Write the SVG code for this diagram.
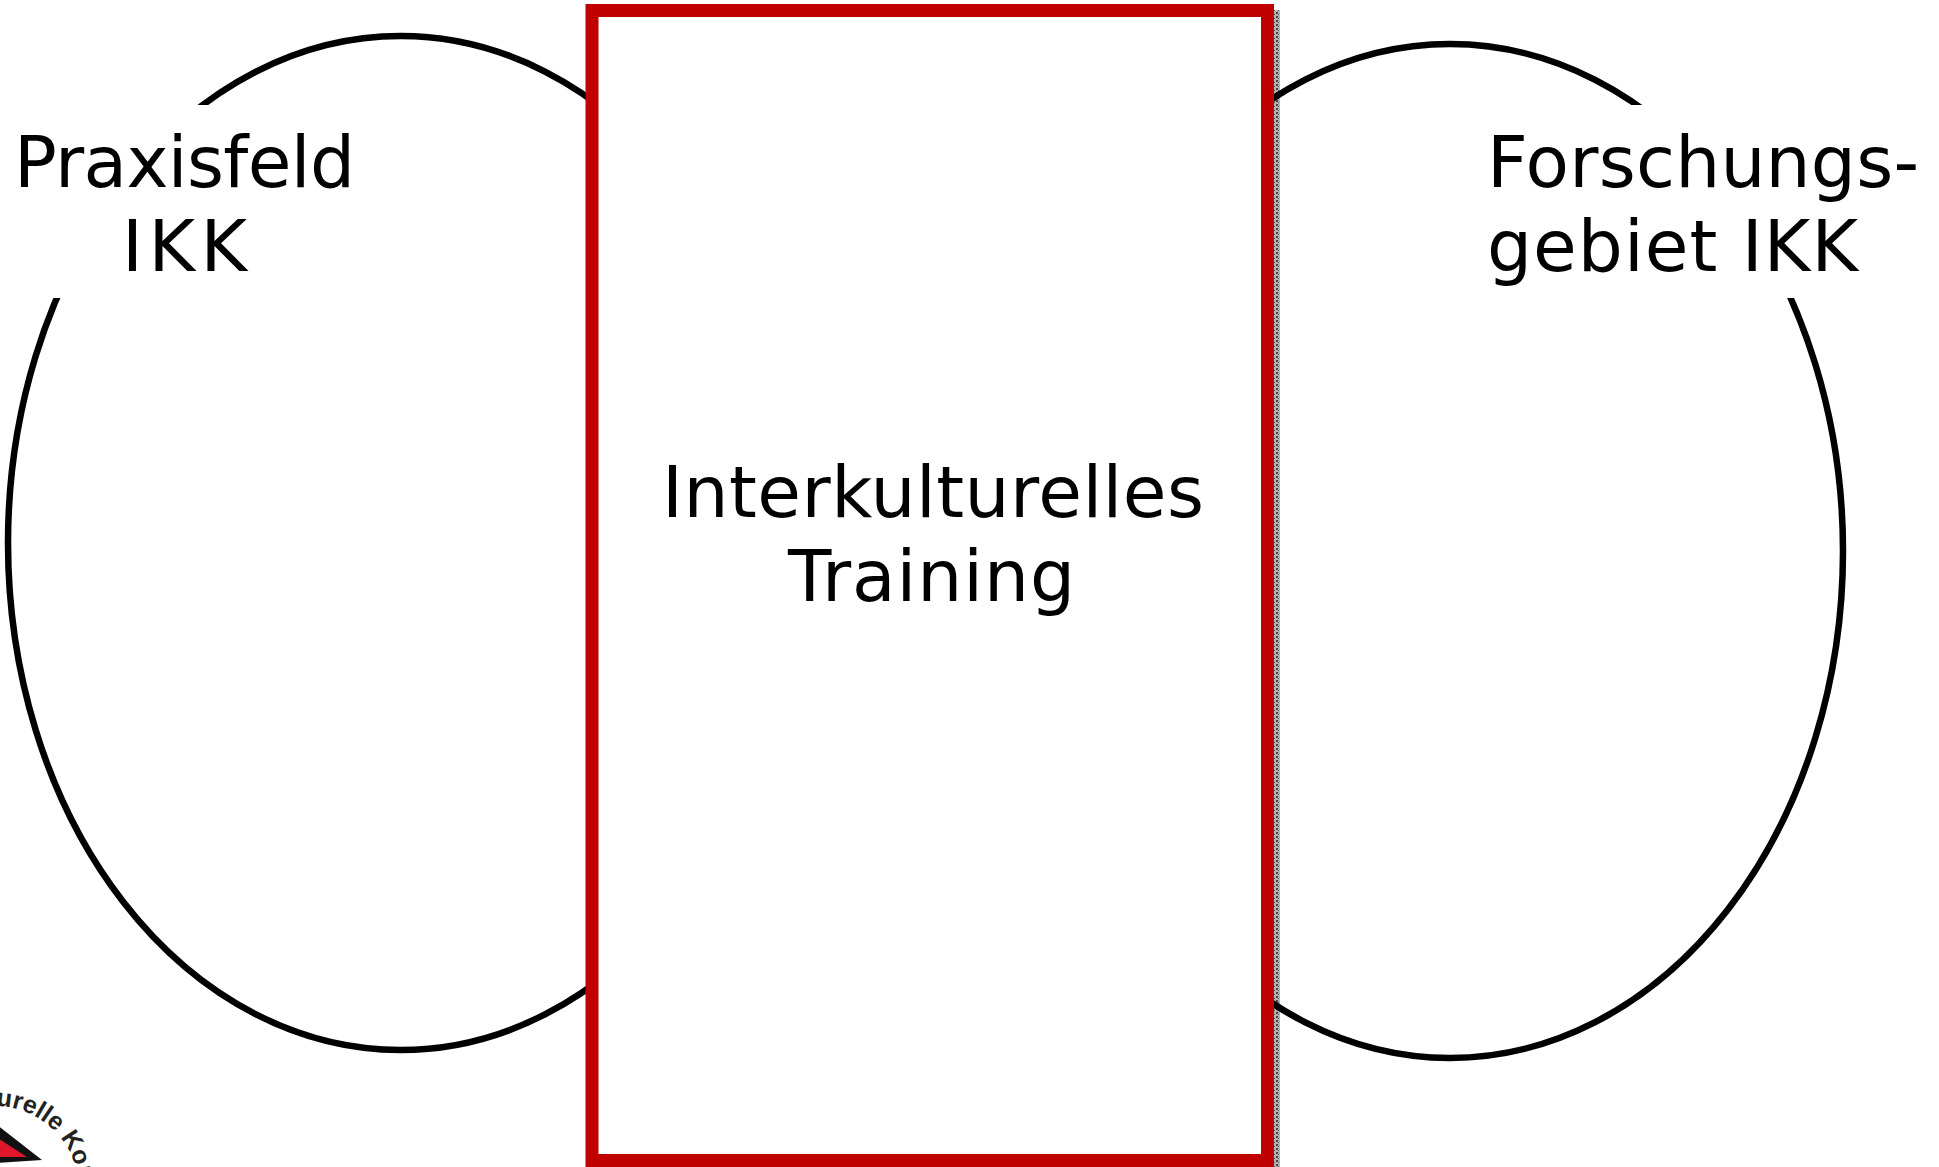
<svg xmlns="http://www.w3.org/2000/svg" width="1939" height="1167" viewBox="0 0 1939 1167">
<style>
.el{fill:none;stroke:#000;stroke-width:6.500}
.lb{font-family:"DejaVu Sans",Verdana,sans-serif;font-size:71px;fill:#000}
.mask{fill:#fff}
</style>
<defs>
<pattern id="h" width="4" height="4" patternUnits="userSpaceOnUse"><rect width="4" height="4" fill="#b4b4b4"/><rect width="2" height="2" fill="#444"/><rect x="2" y="2" width="1" height="1" fill="#555"/></pattern>
<path id="arc" d="M-59.600 1125A85 85 0 0 1 60 1244.600"/>
</defs>
<rect width="1939" height="1167" fill="#fff"/>
<g id="hatch"><rect x="1274" y="10" width="6" height="1157" fill="url(#h)"/></g>
<g id="praxisfeld">
<ellipse class="el" cx="400.500" cy="543" rx="392.500" ry="507"/>
<rect class="mask" x="0" y="105" width="400" height="193"/>
<text class="lb" x="14" y="187" textLength="341" lengthAdjust="spacing">Praxisfeld</text>
<text class="lb" x="122" y="271" textLength="125" lengthAdjust="spacing">IKK</text>
</g>
<g id="forschung">
<ellipse class="el" cx="1450" cy="551" rx="393" ry="507"/>
<rect class="mask" x="1470" y="105" width="469" height="193"/>
<text class="lb" x="1487" y="187" textLength="432" lengthAdjust="spacing">Forschungs-</text>
<text class="lb" x="1487" y="271" textLength="371" lengthAdjust="spacing">gebiet IKK</text>
</g>
<g id="training">
<rect x="592" y="10.500" width="675.500" height="1150" fill="#fff" stroke="#c00000" stroke-width="13"/>
<text class="lb" x="662" y="517" textLength="542" lengthAdjust="spacing">Interkulturelles</text>
<text class="lb" x="788" y="601" textLength="287" lengthAdjust="spacing">Training</text>
</g>
<g id="logo">
<path d="M-4 1124L42 1160L-4 1163Z" fill="#111"/>
<path d="M-4 1137L27 1157H-4Z" fill="#e0162b"/>
<text font-family="'Liberation Sans',Arial,sans-serif" font-weight="700" font-size="25px" fill="#222"><textPath href="#arc" startOffset="60">urelle Kom</textPath></text>
</g>
<g id="connectors"/>
</svg>
